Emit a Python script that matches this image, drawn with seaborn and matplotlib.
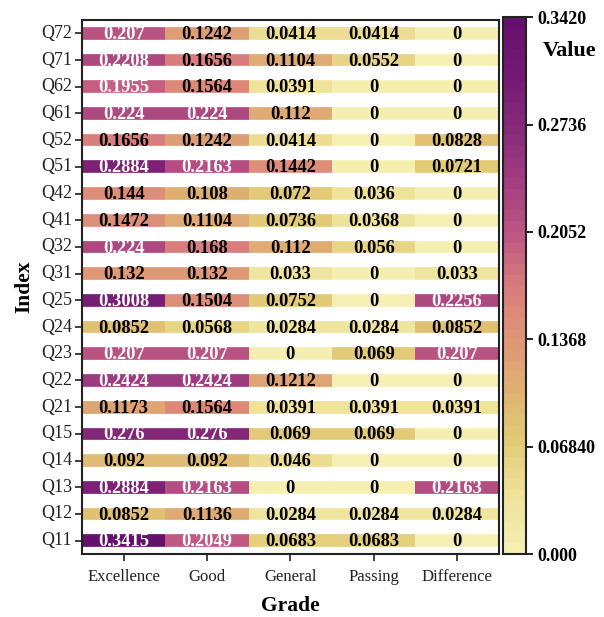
import matplotlib
matplotlib.use("Agg")
import matplotlib.pyplot as plt
from matplotlib.colors import LinearSegmentedColormap, ListedColormap
import numpy as np
import pandas as pd
import seaborn as sns

# ---- data ----
index_labels = ["Q72", "Q71", "Q62", "Q61", "Q52", "Q51", "Q42", "Q41", "Q32", "Q31",
                "Q25", "Q24", "Q23", "Q22", "Q21", "Q15", "Q14", "Q13", "Q12", "Q11"]
grades = ["Excellence", "Good", "General", "Passing", "Difference"]

excellence = [0.207, 0.2208, 0.1955, 0.224, 0.1656, 0.2884, 0.144, 0.1472, 0.224, 0.132,
              0.3008, 0.0852, 0.207, 0.2424, 0.1173, 0.276, 0.092, 0.2884, 0.0852, 0.3415]
good = [0.1242, 0.1656, 0.1564, 0.224, 0.1242, 0.2163, 0.108, 0.1104, 0.168, 0.132,
        0.1504, 0.0568, 0.207, 0.2424, 0.1564, 0.276, 0.092, 0.2163, 0.1136, 0.2049]
general = [0.0414, 0.1104, 0.0391, 0.112, 0.0414, 0.1442, 0.072, 0.0736, 0.112, 0.033,
           0.0752, 0.0284, 0, 0.1212, 0.0391, 0.069, 0.046, 0, 0.0284, 0.0683]
passing = [0.0414, 0.0552, 0, 0, 0, 0, 0.036, 0.0368, 0.056, 0,
           0, 0.0284, 0.069, 0, 0.0391, 0.069, 0, 0, 0.0284, 0.0683]
difference = [0, 0, 0, 0, 0.0828, 0.0721, 0, 0, 0, 0.033,
              0.2256, 0.0852, 0.207, 0, 0.0391, 0, 0, 0.2163, 0.0284, 0]

cbar_ticks = [0.0, 0.0684, 0.1368, 0.2052, 0.2736, 0.342]
cbar_ticklabels = ["0.000", "0.06840", "0.1368", "0.2052", "0.2736", "0.3420"]

df = pd.DataFrame({"Excellence": excellence, "Good": good, "General": general,
                   "Passing": passing, "Difference": difference}, index=index_labels)

# ---- style ----
plt.rcParams["font.family"] = ["Liberation Serif", "DejaVu Serif"]

anchors = ["#f5efb2", "#efe29a", "#e2cb76", "#dfb171", "#de9577", "#d97b7c",
           "#bd5583", "#a23d80", "#872a7a", "#741a74", "#65106c"]
smooth = LinearSegmentedColormap.from_list("sunset_purple", anchors)
cmap = ListedColormap(smooth(np.linspace(0, 1, 50)))

fig = plt.figure(figsize=(6.04, 6.17), dpi=100)
ax = fig.add_axes([0.1358, 0.1021, 0.690, 0.8655])
cax = fig.add_axes([0.8328, 0.1021, 0.038, 0.870])

sns.heatmap(df, ax=ax, cbar_ax=cax, cmap=cmap, vmin=0, vmax=0.342,
            annot=True, fmt="g",
            annot_kws={"fontsize": 13.3, "fontweight": "bold"})

# text colour: white on dark cells; nudge to optical centre of the band
vals = df.values.flatten()
for txt, v in zip(ax.texts, vals):
    txt.set_color("white" if v > 0.18 else "black")
    x, y = txt.get_position()
    txt.set_position((x, y + 0.04))
    txt.set_zorder(4)

# white separators between rows
for i in range(len(index_labels) + 1):
    ax.axhline(i, color="white", linewidth=10.3, zorder=2)

for sp in ax.spines.values():
    sp.set_visible(True)
    sp.set_color("#222222")
    sp.set_linewidth(1.5)

ax.tick_params(axis="both", which="both", length=5, width=1.2, direction="out",
               colors="#222222")
ax.tick_params(axis="x", labelsize=12, pad=6)
ax.tick_params(axis="y", labelsize=13, pad=2)
ax.set_yticklabels(index_labels, rotation=0)
ax.set_xticklabels(grades, rotation=0)
ax.set_xlabel("Grade", fontsize=15.5, fontweight="bold", labelpad=8)
ax.set_ylabel("Index", fontsize=15.5, fontweight="bold", labelpad=5)

cbar = ax.collections[0].colorbar
cbar.set_ticks(cbar_ticks)
cbar.set_ticklabels(cbar_ticklabels)
cbar.ax.tick_params(length=5, width=1.2, labelsize=13)
for t in cbar.ax.get_yticklabels():
    t.set_fontweight("bold")
cbar.outline.set_visible(True)
cbar.outline.set_edgecolor("#222222")
cbar.outline.set_linewidth(1.5)
cbar.ax.text(1.75, 0.937, "Value", transform=cbar.ax.transAxes,
             fontsize=16, fontweight="bold", ha="left", va="center")

fig.savefig("out.png", dpi=100)
